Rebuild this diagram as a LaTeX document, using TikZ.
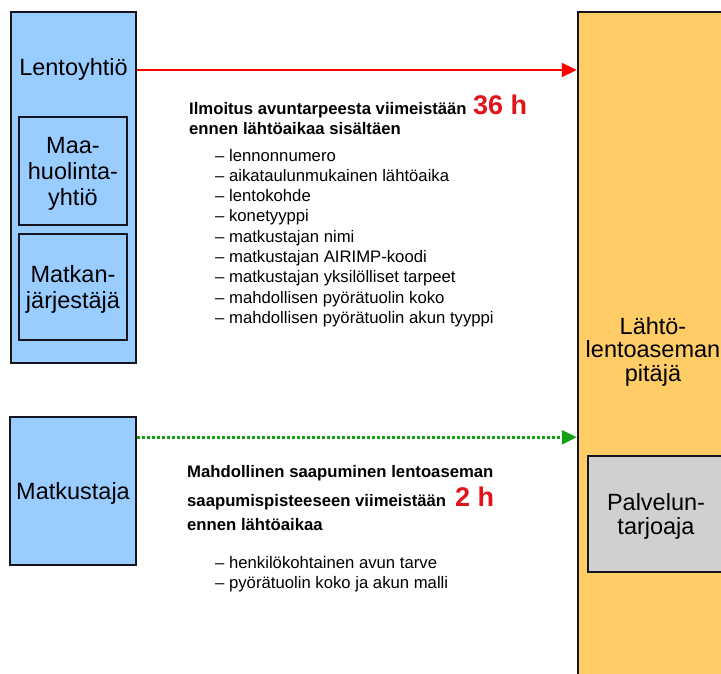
\documentclass[tikz,border=0pt]{standalone}
\usepackage{fontspec}
\setmainfont{Liberation Sans}
\usetikzlibrary{arrows.meta,calc}
\definecolor{boxblue}{RGB}{153,204,255}
\definecolor{boxorange}{RGB}{255,204,102}
\definecolor{boxgray}{RGB}{208,208,208}
\definecolor{linered}{RGB}{255,0,0}
\definecolor{textred}{RGB}{225,20,25}
\definecolor{arrowgreen}{RGB}{20,160,20}
\definecolor{edgecol}{RGB}{20,20,30}
\begin{document}
\begin{tikzpicture}[x=1pt,y=-1pt,
  box/.style={draw=edgecol,line width=2.5pt,inner sep=0pt,align=center,text depth=0pt},
  lbl/.style={font=\fontsize{23.5}{26}\selectfont},
  rlbl/.style={font=\fontsize{23.5}{23.5}\selectfont},
  head/.style={anchor=base west,inner sep=0pt,font=\fontsize{16.7}{20}\selectfont\bfseries},
  item/.style={anchor=base west,inner sep=0pt,font=\fontsize{16.7}{20}\selectfont},
  bighour/.style={anchor=base west,inner sep=0pt,text=textred,font=\fontsize{27}{27}\selectfont\bfseries},
  tipa/.style={-{Triangle[length=15pt,width=14pt]}}
]
\useasboundingbox (0,0) rectangle (721,673);
\clip (0,0) rectangle (721,673);
\fill[white] (0,0) rectangle (721,673);

% right side
\node[box,rlbl,fill=boxorange,minimum width=150pt,minimum height=674pt] (lahto) at (653,349) {Lähtö-\\lentoaseman\\pitäjä};
\node[box,rlbl,fill=boxgray,minimum width=136pt,minimum height=116pt] (palv) at (656,514) {Palvelun-\\tarjoaja};

% left side
\node[box,fill=boxblue,minimum width=125pt,minimum height=351pt] (lento) at (73.5,187.5) {};
\node[lbl,inner sep=0pt,anchor=base] (lentotxt) at (73.5,75) {Lentoyhtiö};
\node[box,lbl,fill=boxblue,minimum width=108pt,minimum height=108pt] (maa) at (73,171) {Maa-\\huolinta-\\yhtiö};
\node[box,lbl,fill=boxblue,minimum width=108pt,minimum height=106pt] (matkj) at (73,287) {Matkan-\\järjestäjä};
\node[box,lbl,fill=boxblue,minimum width=126pt,minimum height=148pt] (matk) at (73,491) {Matkustaja};

% connectors
\coordinate (rstart) at ([yshift=-59.25pt]lento.north east);
\draw[linered,line width=2pt,tipa] (rstart) -- (rstart -| lahto.west);
\coordinate (gstart) at ([yshift=-21.5pt]matk.north east);
\draw[arrowgreen,line width=2.5pt,dash pattern=on 2.5pt off 2.5pt,tipa] (gstart) -- (gstart -| lahto.west);

% text block 1
\node[head] (t1a) at (189,114) {Ilmoitus avuntarpeesta viimeistään};
\node[bighour] (t1b) at (473,114) {36 h};
\node[head] (t1c) at (189,134) {ennen lähtöaikaa sisältäen};
\foreach \i/\t in {1/lennonnumero,2/aikataulunmukainen lähtöaika,3/lentokohde,4/konetyyppi,5/matkustajan nimi,6/matkustajan AIRIMP-koodi,7/matkustajan yksilölliset tarpeet,8/mahdollisen pyörätuolin koko,9/mahdollisen pyörätuolin akun tyyppi}
  \node[item] (b\i) at (215,{161+20.3*(\i-1)}) {– \t};

% text block 2
\node[head] (t2a) at (187,477) {Mahdollinen saapuminen lentoaseman};
\node[head] (t2b) at (187,506) {saapumispisteeseen viimeistään};
\node[bighour] (t2c) at (455,506) {2 h};
\node[head] (t2d) at (187,530) {ennen lähtöaikaa};
\node[item] (c1) at (215,568) {– henkilökohtainen avun tarve};
\node[item] (c2) at (215,588) {– pyörätuolin koko ja akun malli};
\end{tikzpicture}
\end{document}
